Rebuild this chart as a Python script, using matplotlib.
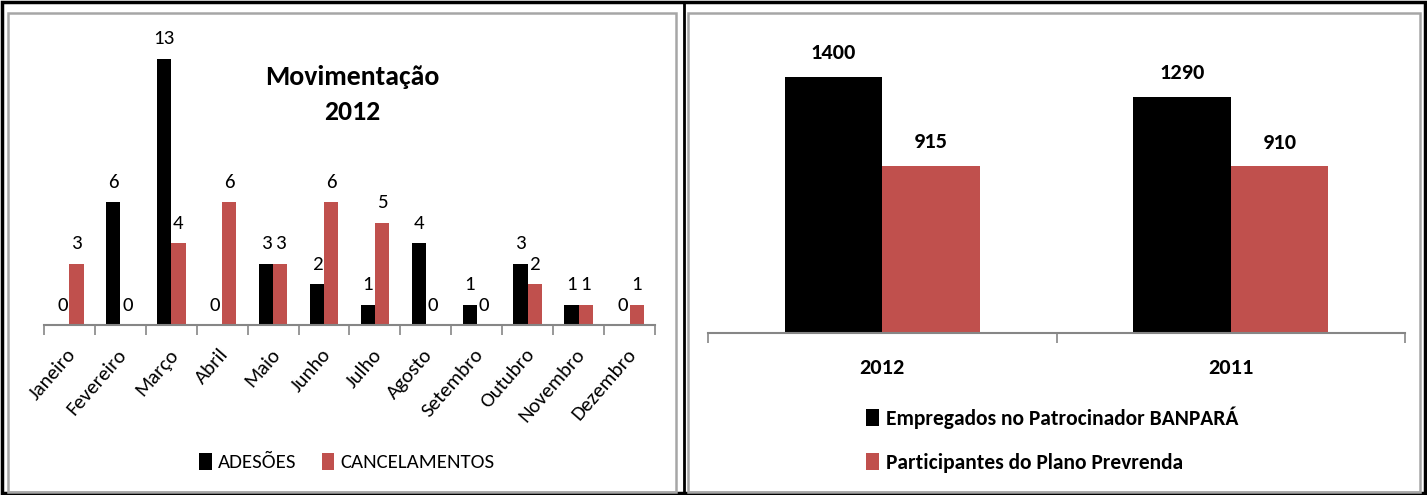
import matplotlib.pyplot as plt
import matplotlib.transforms as mtransforms
import numpy as np
from matplotlib import font_manager as fm
from matplotlib.patches import Rectangle
from matplotlib.lines import Line2D

# Calibri-like family, first one found
instaladas = {f.name for f in fm.fontManager.ttflist}
candidatas = ['Carlito', 'Pragati Narrow', 'Liberation Sans Narrow', 'Open Sans', 'DejaVu Sans']
fonte = next(c for c in candidatas if c in instaladas)
plt.rcParams['font.family'] = [fonte, 'DejaVu Sans']

# monthly movements
meses = ['Janeiro', 'Fevereiro', 'Março', 'Abril', 'Maio', 'Junho', 'Julho',
         'Agosto', 'Setembro', 'Outubro', 'Novembro', 'Dezembro']
adesoes = [0, 6, 13, 0, 3, 2, 1, 4, 1, 3, 1, 0]
cancelamentos = [3, 0, 4, 6, 3, 6, 5, 0, 0, 2, 1, 1]

# employees vs participants
anos = ['2012', '2011']
empregados = [1400, 1290]
participantes = [915, 910]

PRETO = '#000000'
VERMELHO = '#C0504D'
CINZA = '#868686'

W, H = 1427, 495
fig = plt.figure(figsize=(W / 100, H / 100), dpi=100)


def px(x0, y0, x1, y1):
    # pixel box (top-left origin) -> figure fraction
    return [x0 / W, 1 - y1 / H, (x1 - x0) / W, (y1 - y0) / H]


# frames
fig.patches.append(Rectangle((2 / W, 2 / H), (W - 4) / W, (H - 4) / H, transform=fig.transFigure,
                             fill=False, ec='black', lw=2.5, zorder=0))
fig.lines.append(Line2D([684 / W, 684 / W], [2 / H, 1 - 2 / H], transform=fig.transFigure,
                        color='black', lw=2))
for (a, b) in [(8, 676), (688, 1420)]:
    fig.patches.append(Rectangle((a / W, 1 - 492 / H), (b - a) / W, (492 - 13) / H,
                                 transform=fig.transFigure, fill=False, ec='#A6A6A6', lw=1.8))


def estilo(ax, n):
    for s in ['top', 'right', 'left']:
        ax.spines[s].set_visible(False)
    ax.spines['bottom'].set_color(CINZA)
    ax.spines['bottom'].set_linewidth(1.5)
    ax.set_yticks([])
    ax.set_xlim(-0.5, n - 0.5)
    ax.set_xticks(np.arange(-0.5, n), minor=True)
    ax.tick_params(axis='x', which='minor', length=7, color=CINZA, width=1.2)
    ax.tick_params(axis='x', which='major', length=0)
    ax.patch.set_alpha(0)


# left chart
ax1 = fig.add_axes(px(44, 20, 655, 325))
x = np.arange(len(meses))
w = 0.28
b1 = ax1.bar(x - w / 2, adesoes, w, color=PRETO, label='ADESÕES')
b2 = ax1.bar(x + w / 2, cancelamentos, w, color=VERMELHO, label='CANCELAMENTOS')
ax1.set_ylim(0, 305 / 20.5)
estilo(ax1, len(meses))
ax1.set_xticks(x)
ax1.set_xticklabels(meses, rotation=49, ha='right', rotation_mode='anchor', fontsize=15)
ax1.tick_params(axis='x', which='major', pad=15)
desloc = mtransforms.ScaledTranslation(-3 / 100, 0, fig.dpi_scale_trans)
for rot in ax1.get_xticklabels():
    rot.set_transform(rot.get_transform() + desloc)
ax1.bar_label(b1, padding=8, fontsize=15)
ax1.bar_label(b2, padding=8, fontsize=15)
fig.text(352 / W, 1 - 77 / H, 'Movimentação', ha='center', va='center', fontsize=20, fontweight='bold')
fig.text(352 / W, 1 - 112 / H, '2012', ha='center', va='center', fontsize=20, fontweight='bold')
fig.legend(handles=[b1, b2], loc='center', bbox_to_anchor=(347 / W, 1 - 462 / H), ncol=2,
           frameon=False, fontsize=15, handlelength=0.6, handleheight=0.9, handletextpad=0.3,
           columnspacing=1.2)

# right chart
ax2 = fig.add_axes(px(708, 20, 1405, 333))
x2 = np.arange(len(anos))
b3 = ax2.bar(x2 - w / 2, empregados, w, color=PRETO, label='Empregados no Patrocinador BANPARÁ')
b4 = ax2.bar(x2 + w / 2, participantes, w, color=VERMELHO, label='Participantes do Plano Prevrenda')
ax2.set_ylim(0, 313 / 0.183)
estilo(ax2, len(anos))
ax2.set_xticks(x2)
ax2.set_xticklabels(anos, fontsize=16, fontweight='bold')
ax2.tick_params(axis='x', which='major', pad=18)
ax2.bar_label(b3, padding=10, fontsize=16, fontweight='bold')
ax2.bar_label(b4, padding=10, fontsize=16, fontweight='bold')
fig.legend(handles=[b3, b4], loc='upper left', bbox_to_anchor=(847 / W, 1 - 387 / H), ncol=1,
           frameon=False, handlelength=0.6, handleheight=0.9, handletextpad=0.3,
           labelspacing=1.1, prop={'weight': 'bold', 'size': 15.5})

fig.savefig('out.png', dpi=100)
